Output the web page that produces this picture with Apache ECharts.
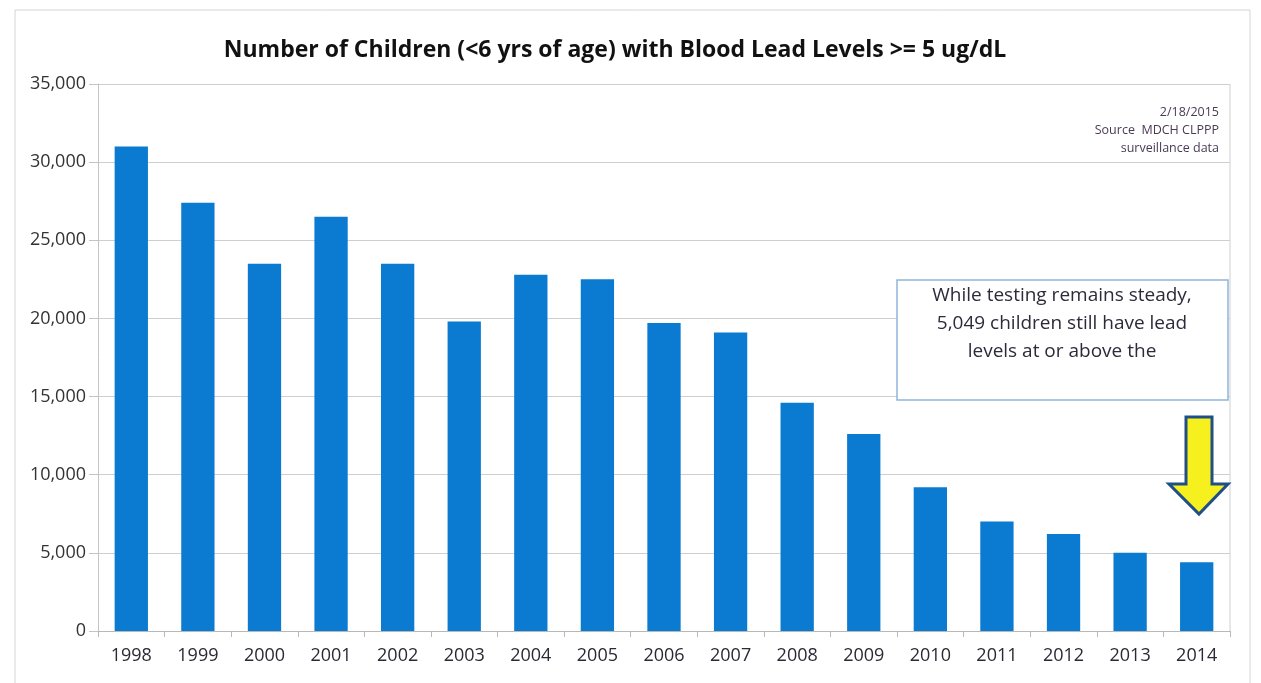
<!DOCTYPE html>
<html>
<head>
<meta charset="utf-8">
<script src="https://cdn.jsdelivr.net/npm/echarts@6/dist/echarts.min.js"></script>
<style>
  html, body { margin: 0; padding: 0; background: #fff; }
  #chart { width: 1261px; height: 683px; }
</style>
</head>
<body>
<div id="chart"></div>
<script>
// years and counts
const years = ['1998', '1999', '2000', '2001', '2002', '2003', '2004', '2005', '2006',
  '2007', '2008', '2009', '2010', '2011', '2012', '2013', '2014'];
const children = [31000, 27400, 23500, 26500, 23500, 19800, 22800, 22500, 19700,
  19100, 14600, 12600, 9200, 7000, 6200, 5000, 4400];
const sourceLines = ['2/18/2015', 'Source  MDCH CLPPP', 'surveillance data'];
const noteLines = ['While testing remains steady,', '5,049 children still have lead', 'levels at or above the'];

const font = '"Open Sans", "Liberation Sans", sans-serif';
const chart = echarts.init(document.getElementById('chart'));

const option = {
  backgroundColor: '#fff',
  animation: false,
  title: {
    text: 'Number of Children (<6 yrs of age) with Blood Lead Levels >= 5 ug/dL',
    left: 610,
    top: 34,
    textAlign: 'center',
    textStyle: { fontFamily: font, fontSize: 23, fontWeight: 'bold', color: '#111' }
  },
  grid: { left: 98, right: 31, top: 84, bottom: 52 },
  xAxis: {
    type: 'category',
    data: years,
    axisLine: { lineStyle: { color: '#b8b8b8' } },
    axisTick: { show: true, length: 6, lineStyle: { color: '#b8b8b8' } },
    axisLabel: { color: '#2a2a35', fontFamily: font, fontSize: 18, margin: 16 }
  },
  yAxis: {
    type: 'value',
    min: 0,
    max: 35000,
    interval: 5000,
    axisLine: { show: true, lineStyle: { color: '#c4c4c4' } },
    axisTick: { show: true, length: 9, lineStyle: { color: '#c4c4c4' } },
    axisLabel: {
      color: '#333',
      fontFamily: font,
      fontSize: 18,
      margin: 12,
      formatter: v => v.toLocaleString('en-US')
    },
    splitLine: { lineStyle: { color: '#cfcfcf' } }
  },
  series: [{
    type: 'bar',
    data: children,
    barWidth: '50%',
    itemStyle: { color: '#0b7ad1' }
  }],
  graphic: [
    // outer chart frame
    { type: 'rect', z: 0, silent: true, shape: { x: 15, y: 10, width: 1235, height: 700 },
      style: { fill: 'none', stroke: '#d4d4d4', lineWidth: 1 } },
    // right edge of plot area
    { type: 'line', shape: { x1: 1230, y1: 84, x2: 1230, y2: 631 }, style: { stroke: '#cfcfcf', lineWidth: 1 } },
    // source note
    ...sourceLines.map((t, i) => ({
      type: 'text', right: 42, top: 106 + i * 18, z: 100,
      style: { text: t, fill: '#4a3a55', font: '12.5px ' + font, textAlign: 'right' }
    })),
    // annotation box
    { type: 'rect', z: 100, shape: { x: 897, y: 280, width: 331, height: 120 },
      style: { fill: '#fff', stroke: '#8fb6dc', lineWidth: 1.5 } },
    ...noteLines.map((t, i) => ({
      type: 'text', x: 1062, y: 286 + i * 28, z: 101,
      style: { text: t, fill: '#2b2b3a', font: '19px ' + font, textAlign: 'center' }
    })),
    // yellow arrow
    { type: 'polygon', z: 100,
      shape: { points: [[1186, 417], [1212, 417], [1212, 484], [1228, 484], [1199, 514], [1169, 484], [1186, 484]] },
      style: { fill: '#f5f01e', stroke: '#1f4f86', lineWidth: 3 } }
  ]
};

chart.setOption(option);
</script>
</body>
</html>
